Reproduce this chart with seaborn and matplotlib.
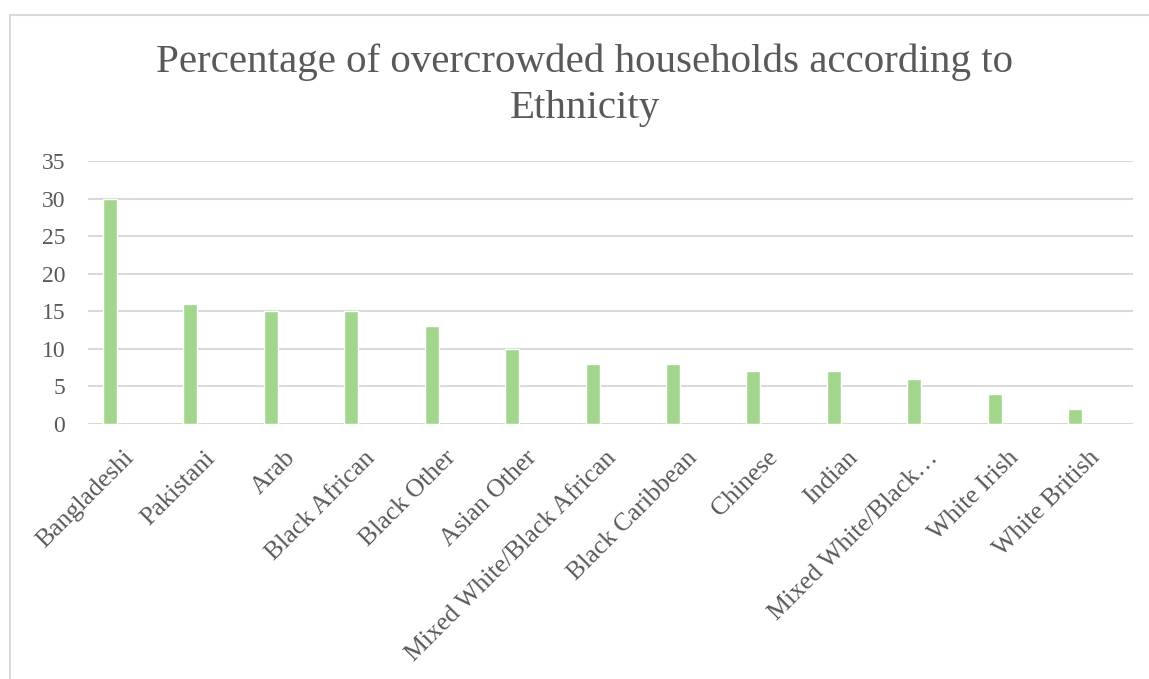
import matplotlib
matplotlib.use("Agg")
import matplotlib.pyplot as plt
import matplotlib.patches as patches
import matplotlib.transforms as mtransforms
import pandas as pd
import seaborn as sns

# Chart data
ethnicity = ["Bangladeshi", "Pakistani", "Arab", "Black African", "Black Other",
             "Asian Other", "Mixed White/Black African", "Black Caribbean",
             "Chinese", "Indian", "Mixed White/Black\u2026", "White Irish",
             "White British"]
overcrowded_pct = [30, 16, 15, 15, 13, 10, 8, 8, 7, 7, 6, 4, 2]
y_ticks = [0, 5, 10, 15, 20, 25, 30, 35]

df = pd.DataFrame({"ethnicity": ethnicity, "pct": overcrowded_pct})

sns.set_theme(style="white")
plt.rcParams['font.family'] = ['Liberation Serif', 'DejaVu Serif']

text_col = "#595959"
grid_col = "#D9D9D9"

fig = plt.figure(figsize=(11.49, 6.79), dpi=100)
ax = fig.add_axes([88 / 1149, 1 - 424 / 679, (1133 - 88) / 1149, (424 - 161) / 679])

sns.barplot(data=df, x="ethnicity", y="pct", color="#A2D68C", width=0.175,
            saturation=1, ax=ax, zorder=3)

ax.set_ylim(0, 35)
ax.set_xlim(-0.274, 12.72)
ax.set_yticks(y_ticks)
ax.yaxis.grid(True, color=grid_col, linewidth=1.5, zorder=0)
ax.set_axisbelow(True)
for s in ["top", "right", "left", "bottom"]:
    ax.spines[s].set_visible(False)
ax.tick_params(axis="both", length=0, labelcolor=text_col)
ax.tick_params(axis="y", labelsize=17, pad=16.5)
ax.tick_params(axis="x", labelsize=18.5)
ax.set_xlabel("")
ax.set_ylabel("")

# rotated category labels, nudged to sit like the original
offset = mtransforms.ScaledTranslation(0.13, -0.18, fig.dpi_scale_trans)
for lbl in ax.get_xticklabels():
    lbl.set_rotation(45)
    lbl.set_ha("right")
    lbl.set_va("top")
    lbl.set_rotation_mode("anchor")
    lbl.set_transform(lbl.get_transform() + offset)

fig.text(0.509, 1 - 72 / 679, "Percentage of overcrowded households according to",
         ha="center", va="baseline", fontsize=29.5, color=text_col)
fig.text(0.509, 1 - 118 / 679, "Ethnicity",
         ha="center", va="baseline", fontsize=29.5, color=text_col)

# Chart-area frame (only left and top edges visible)
frame = patches.Rectangle((10 / 1149, -0.1), 2, 1 - 15 / 679 + 0.1,
                          transform=fig.transFigure, fill=False,
                          edgecolor=grid_col, linewidth=1.5, clip_on=False)
fig.patches.append(frame)

fig.savefig("out.png", dpi=100)
